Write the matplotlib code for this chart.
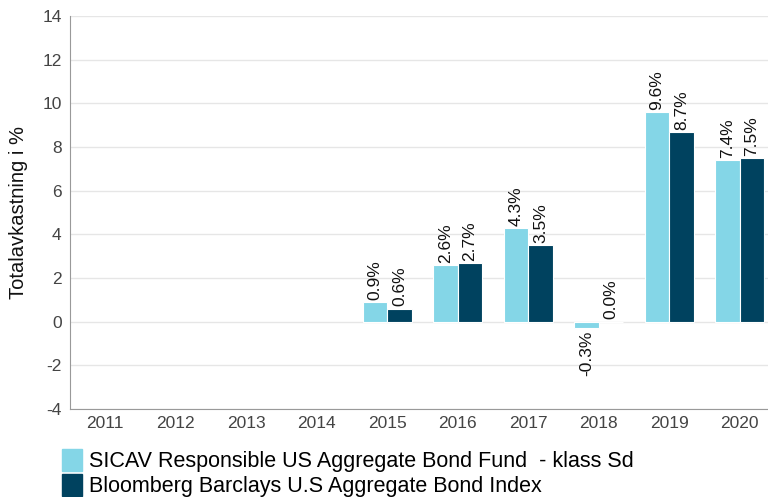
import matplotlib.pyplot as plt
import numpy as np
from matplotlib.patches import Patch

plt.rcParams['font.family'] = ['Liberation Sans', 'DejaVu Sans']
plt.rcParams['axes.unicode_minus'] = False

years = ['2011', '2012', '2013', '2014', '2015', '2016', '2017', '2018', '2019', '2020']
fund = [None, None, None, None, 0.9, 2.6, 4.3, -0.3, 9.6, 7.4]
index = [None, None, None, None, 0.6, 2.7, 3.5, 0.0, 8.7, 7.5]
fund_name = 'SICAV Responsible US Aggregate Bond Fund  - klass Sd'
index_name = 'Bloomberg Barclays U.S Aggregate Bond Index'

light = '#84D6E7'
dark = '#00425F'

fig = plt.figure(figsize=(7.68, 4.97), dpi=100)
ax = fig.add_axes([70 / 768, 1 - 409 / 497, 705 / 768, 393 / 497])

x = np.arange(len(years))
w = 0.345

for vals, off, col in [(fund, -w / 2, light), (index, w / 2, dark)]:
    for xi, v in zip(x, vals):
        if v is None:
            continue
        ax.bar(xi + off, v, width=w, color=col, edgecolor='white', linewidth=0.8, zorder=3)
        if v >= 0:
            ax.text(xi + off, v + 0.1, f'{v:.1f}%', rotation=90, ha='center', va='bottom',
                    fontsize=12.5, color='#111111')
        else:
            ax.text(xi + off, v - 0.1, f'{v:.1f}%', rotation=90, ha='center', va='top',
                    fontsize=12.5, color='#111111')

ax.set_xlim(-0.5, len(years) - 0.5)
ax.set_ylim(-4, 14)
ax.set_yticks(range(-4, 15, 2))
ax.set_xticks(x)
ax.set_xticklabels(years)
ax.tick_params(axis='both', length=0, labelsize=12.5, colors='#444444')
ax.tick_params(axis='x', pad=5)
ax.tick_params(axis='y', pad=6)
ax.grid(axis='y', color='#e6e6e6', linewidth=1, zorder=0)
for s in ['top', 'right']:
    ax.spines[s].set_visible(False)
for s in ['left', 'bottom']:
    ax.spines[s].set_color('#999999')
ax.set_ylabel('Totalavkastning i %', fontsize=14.5, color='#111111', labelpad=10)

handles = [Patch(color=light), Patch(color=dark)]
fig.legend(handles, [fund_name, index_name], loc='lower left', bbox_to_anchor=(0.070, -0.018),
           frameon=False, fontsize=15.5, handlelength=0.9, handleheight=1.2, handletextpad=0.35,
           labelspacing=0.1, borderaxespad=0)

fig.savefig('out.png', dpi=100)
